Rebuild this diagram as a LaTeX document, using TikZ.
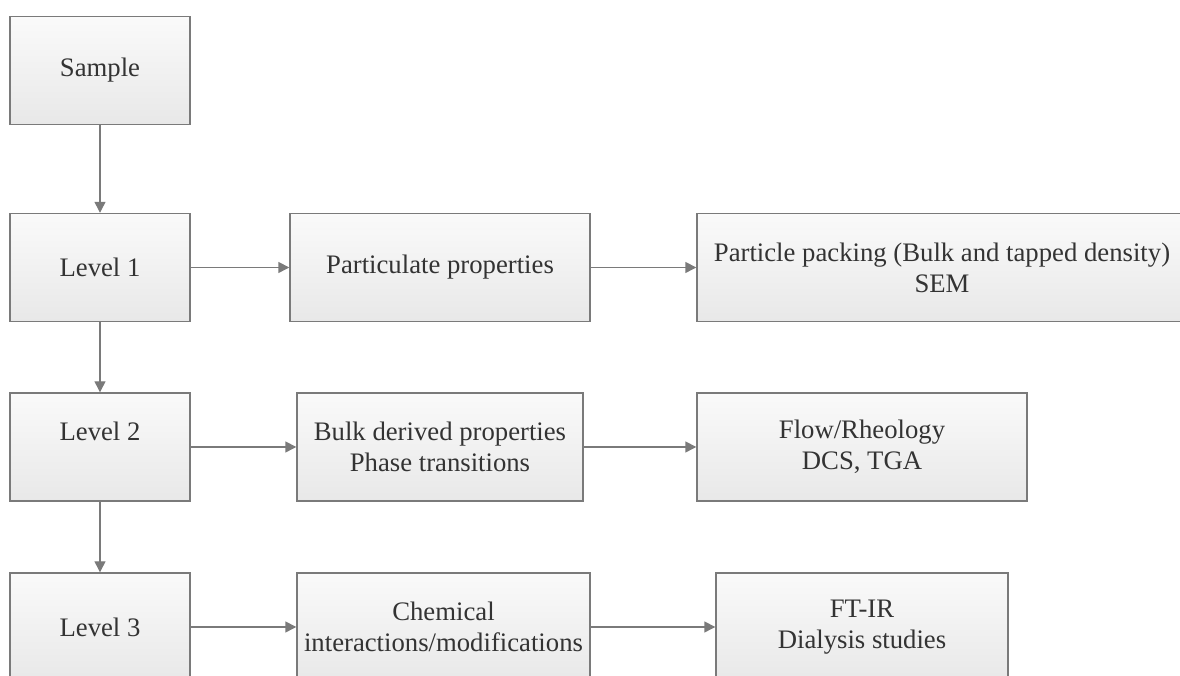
\documentclass[tikz,border=0pt]{standalone}
\usepackage{fontspec}
\setmainfont{Liberation Serif}
\usetikzlibrary{arrows.meta}

\definecolor{edgegray}{HTML}{7A7A7A}
\definecolor{textgray}{HTML}{333333}

\tikzset{
  stage/.style={draw=edgegray, line width=0.8pt, top color=white!98!black,
    bottom color=white!91!black, text=textgray, align=center,
    font=\fontsize{15.2}{17.6}\selectfont, minimum height=2.16cm, inner sep=0pt},
  conn/.style={draw=edgegray, line width=0.8pt,
    -{Triangle[length=0.22cm, width=0.22cm]}}
}

\begin{document}
\begin{tikzpicture}
  \useasboundingbox (0, 0) rectangle (23.6, 13.52);

  % Levels
  \node[stage, minimum width=3.6cm] (sample) at (2.0, 12.11) {Sample};
  \node[stage, minimum width=3.6cm] (lvlone) at (2.0, 8.17) {Level 1};
  \node[stage, minimum width=3.6cm] (lvltwo) at (2.0, 4.58) {Level 2\\\mbox{}};
  \node[stage, minimum width=3.6cm] (lvlthree) at (2.0, 0.98) {Level 3};

  % Level 1 row
  \node[stage, minimum width=6.0cm] (partprop) at (8.8, 8.17)
     {Particulate properties};
  \node[stage, minimum width=9.8cm] (packing) at (18.84, 8.17)
     {Particle packing (Bulk and tapped density)\\SEM};

  % Level 2 row
  \node[stage, minimum width=5.72cm] (bulkprop) at (8.8, 4.58)
     {Bulk derived properties\\Phase transitions};
  \node[stage, minimum width=6.6cm] (flowrheo) at (17.24, 4.58)
     {Flow/Rheology\\DCS, TGA};

  % Level 3 row
  \node[stage, minimum width=5.86cm] (chemint) at (8.87, 0.98)
     {Chemical\\interactions/modifications};
  \node[stage, minimum width=5.84cm] (ftir) at (17.24, 0.98)
     {FT-IR\\Dialysis studies};

  % Connectors
  \draw[conn] (sample) -- (lvlone);
  \draw[conn] (lvlone) -- (lvltwo);
  \draw[conn] (lvltwo) -- (lvlthree);
  \draw[conn] (lvlone) -- (partprop);
  \draw[conn] (partprop) -- (packing);
  \draw[conn] (lvltwo) -- (bulkprop);
  \draw[conn] (bulkprop) -- (flowrheo);
  \draw[conn] (lvlthree) -- (chemint);
  \draw[conn] (chemint) -- (ftir);
\end{tikzpicture}
\end{document}
